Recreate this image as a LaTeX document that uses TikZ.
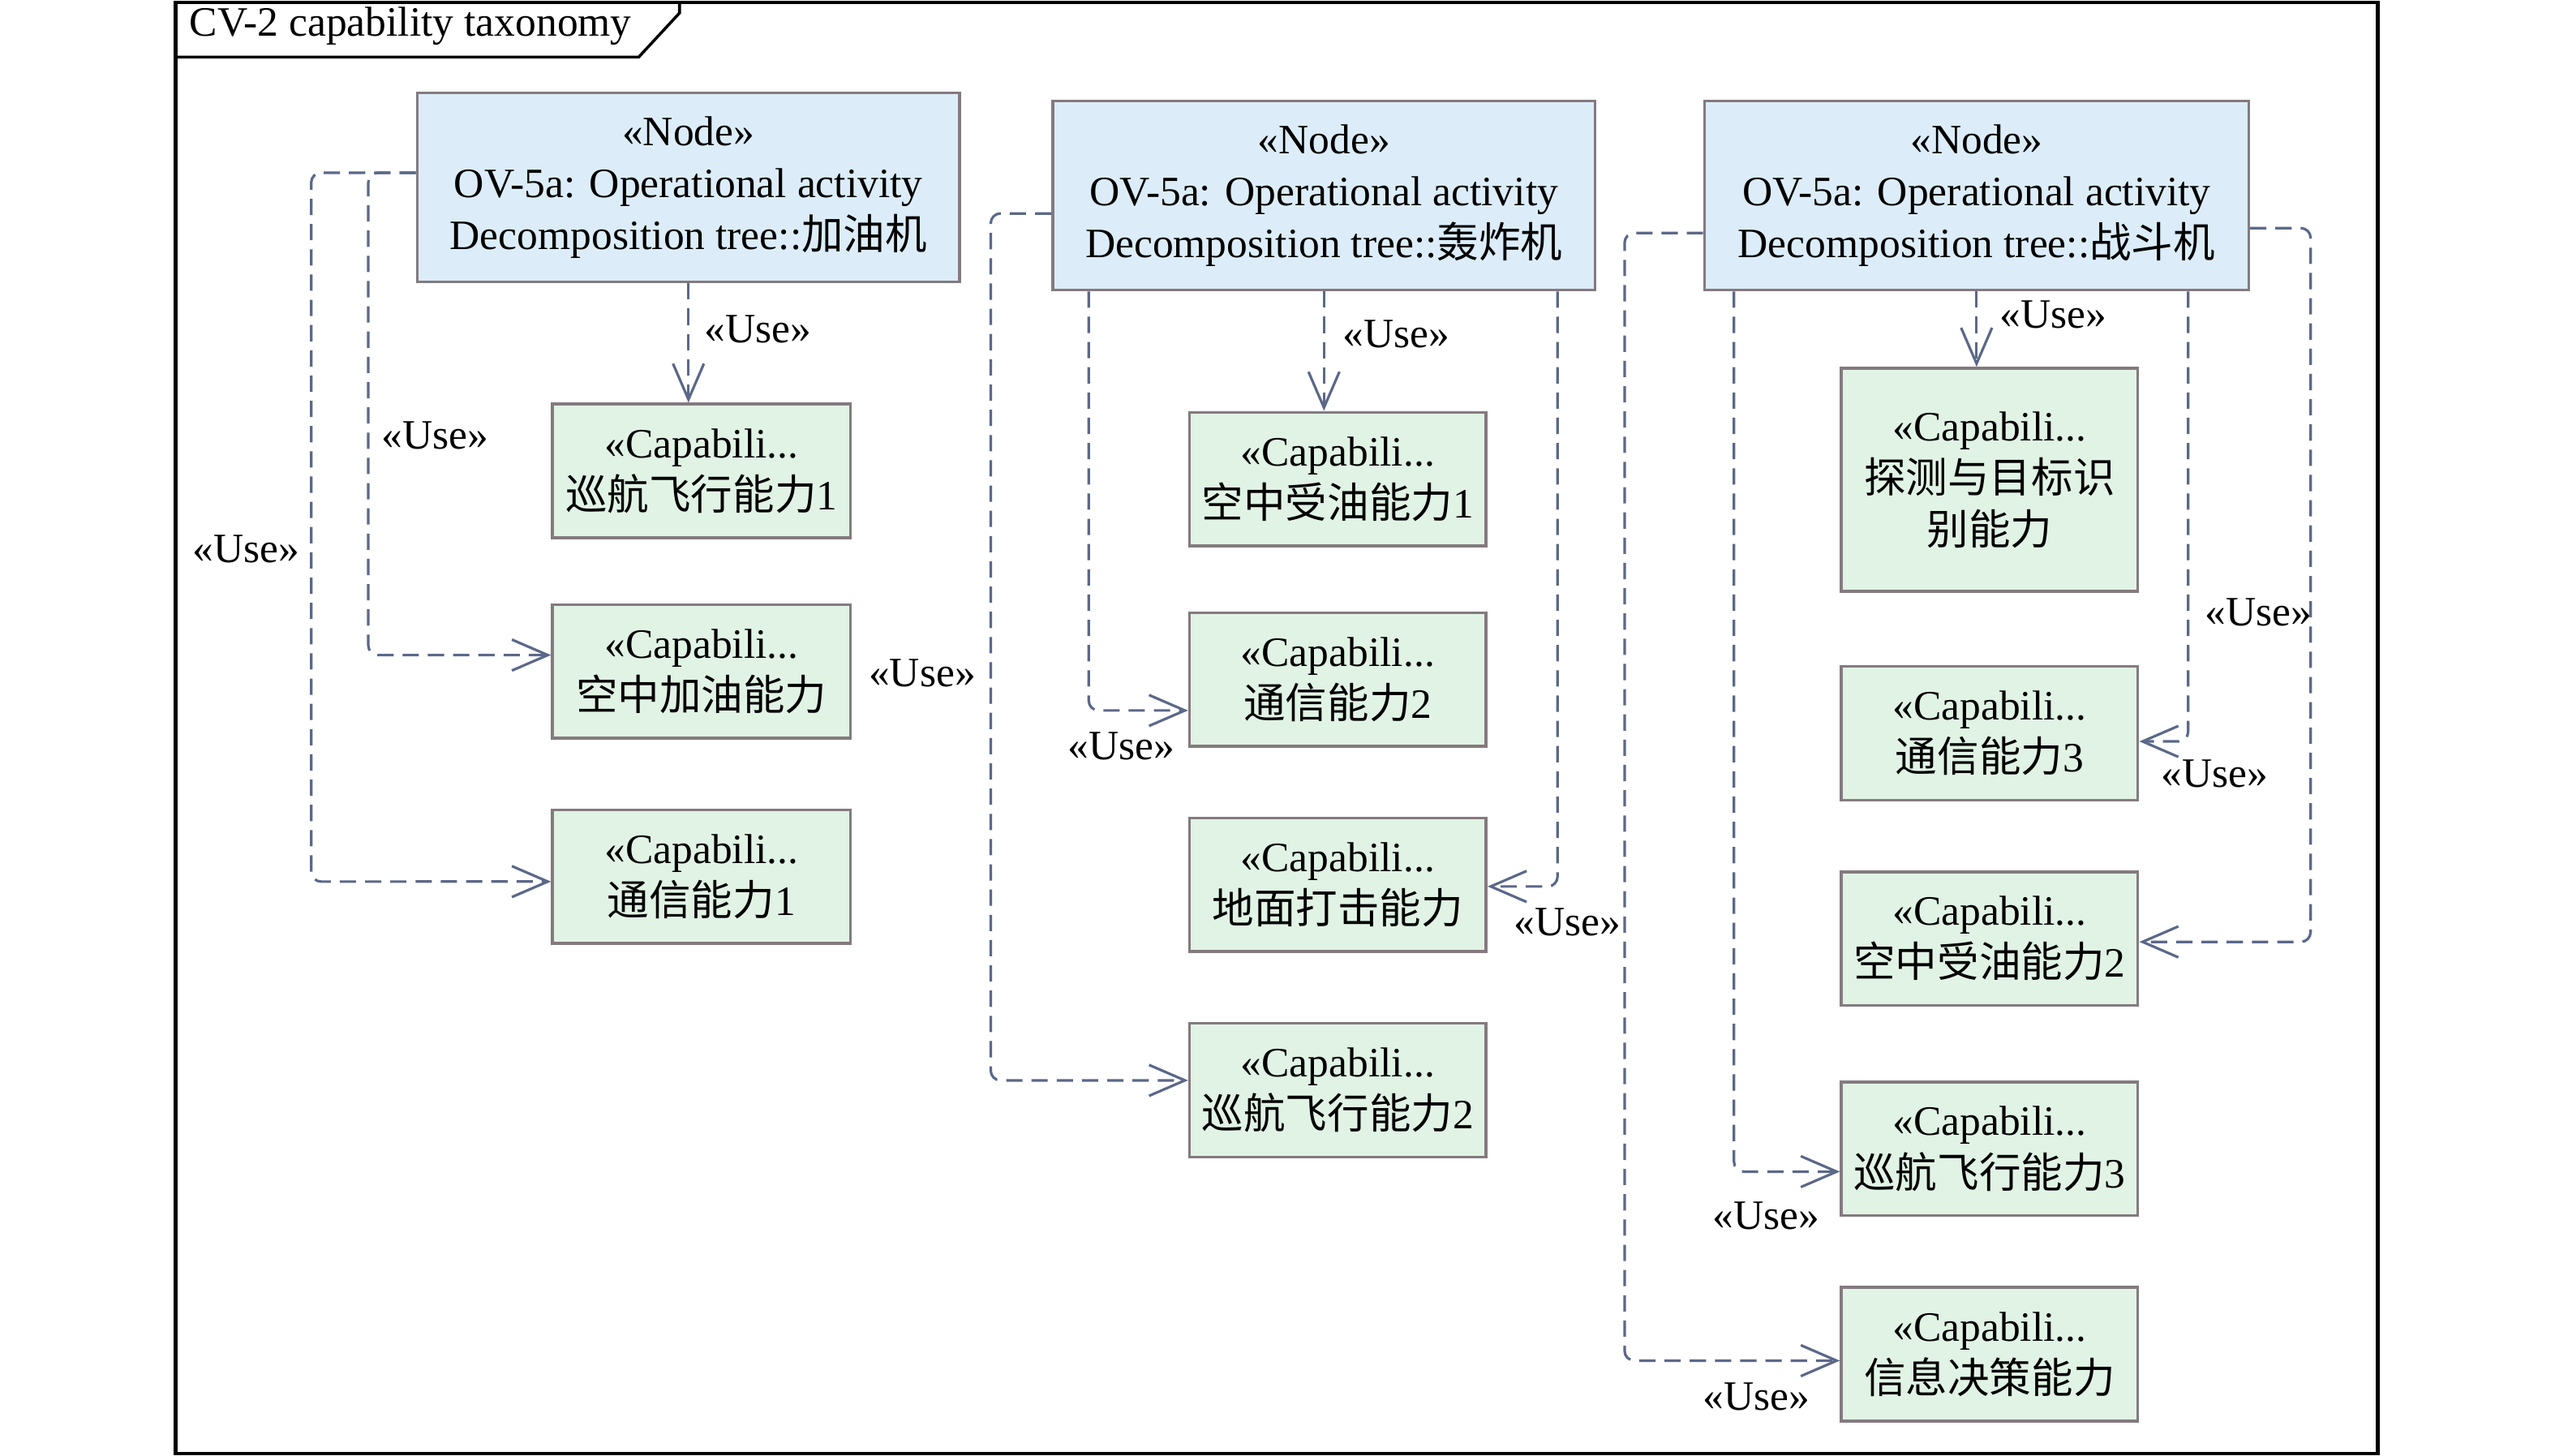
\documentclass[tikz,border=0pt]{standalone}
\usepackage{fontspec}
\setmainfont{Liberation Serif}
\newfontfamily\cjk{Noto Sans CJK SC}
\usetikzlibrary{arrows.meta}
\definecolor{nodefill}{HTML}{DCEDF9}
\definecolor{capfill}{HTML}{E1F3E5}
\definecolor{boxline}{HTML}{847A7F}
\definecolor{conn}{HTML}{5B6889}
\begin{document}
\begin{tikzpicture}[x=0.02cm,y=-0.02cm,
 every node/.style={font=\fontsize{14.6pt}{18.2pt}\selectfont, inner sep=0pt},
 opnode/.style={draw=boxline, fill=nodefill, line width=1pt, minimum width=6.66cm, minimum height=2.32cm, align=center},
 capnode/.style={draw=boxline, fill=capfill, line width=1pt, minimum width=3.64cm, minimum height=1.64cm, align=center},
 usearrow/.style={draw=conn, line width=0.9pt, dash pattern=on 0.2cm off 0.11cm, rounded corners=0.12cm, -{Straight Barb[length=0.44cm,width=0.38cm]}},
 lbl/.style={text=black}]
\useasboundingbox (0,0) rectangle (1568,893.5);
\fill[white] (0,0) rectangle (1568,893.5);
% frame and title tab
\draw[line width=1.4pt] (108,1.5) rectangle (1459,892);
\draw[line width=1pt] (108,35) -- (392,35) -- (417,8) -- (417,1.5);
\node[anchor=west] (title) at (116,16) {CV-2 capability taxonomy};
% operational nodes
\node[opnode] (n1) at (422.5,115) {«Node»\\OV-5a: Operational activity\\Decomposition tree::{\cjk 加油机}};
\node[opnode] (n2) at (812.5,120) {«Node»\\OV-5a: Operational activity\\Decomposition tree::{\cjk 轰炸机}};
\node[opnode, minimum width=6.68cm] (n3) at (1213,120) {«Node»\\OV-5a: Operational activity\\Decomposition tree::{\cjk 战斗机}};
% capability nodes column 1
\node[capnode, minimum width=3.66cm] (c1a) at (430.5,289) {«Capabili...\\{\cjk 巡航飞行能力}1};
\node[capnode, minimum width=3.66cm] (c1b) at (430.5,412) {«Capabili...\\{\cjk 空中加油能力}};
\node[capnode, minimum width=3.66cm] (c1c) at (430.5,538) {«Capabili...\\{\cjk 通信能力}1};
% column 2
\node[capnode] (c2a) at (821,294) {«Capabili...\\{\cjk 空中受油能力}1};
\node[capnode] (c2b) at (821,417) {«Capabili...\\{\cjk 通信能力}2};
\node[capnode] (c2c) at (821,543) {«Capabili...\\{\cjk 地面打击能力}};
\node[capnode] (c2d) at (821,669) {«Capabili...\\{\cjk 巡航飞行能力}2};
% column 3
\node[capnode, minimum height=2.74cm] (c3a) at (1221,294.5) {«Capabili...\\{\cjk 探测与目标识}\\{\cjk 别能力}};
\node[capnode] (c3b) at (1221,450) {«Capabili...\\{\cjk 通信能力}3};
\node[capnode] (c3c) at (1221,576) {«Capabili...\\{\cjk 空中受油能力}2};
\node[capnode] (c3d) at (1221,705) {«Capabili...\\{\cjk 巡航飞行能力}3};
\node[capnode] (c3e) at (1221,831) {«Capabili...\\{\cjk 信息决策能力}};
% connectors node 1
\draw[usearrow] (n1.south) -- (n1.south |- c1a.north);
\draw[usearrow] ([yshift=0.18cm]n1.west) -| (226,402) -- ([yshift=0.2cm]c1b.west);
\draw[usearrow] ([yshift=0.18cm]n1.west) -| (191,541) -- ([yshift=-0.06cm]c1c.west);
% connectors node 2
\draw[usearrow] (n2.south) -- (n2.south |- c2a.north);
\draw[usearrow] ([xshift=0.46cm]n2.south west) |- ([yshift=-0.38cm]c2b.west);
\draw[usearrow] ([xshift=-0.48cm]n2.south east) |- ([yshift=-0.02cm]c2c.east);
\draw[usearrow] ([yshift=-0.22cm]n2.west) -| (608,663) -- ([yshift=0.12cm]c2d.west);
% connectors node 3
\draw[usearrow] (n3.south) -- (n3.south |- c3a.north);
\draw[usearrow] ([xshift=0.38cm]n3.south west) |- ([yshift=-0.28cm]c3d.west);
\draw[usearrow] ([yshift=-0.46cm]n3.west) -| (997,835) -- ([yshift=-0.08cm]c3e.west);
\draw[usearrow] ([xshift=-0.76cm]n3.south east) |- ([yshift=-0.1cm]c3b.east);
\draw[usearrow] ([yshift=-0.4cm]n3.east) -| (1418,578) -- ([yshift=-0.04cm]c3c.east);
% labels
\node[lbl] (u1) at (465,202) {«Use»};
\node[lbl] (u2) at (267,267) {«Use»};
\node[lbl] (u3) at (151,337) {«Use»};
\node[lbl] (u4) at (857,205) {«Use»};
\node[lbl] (u5) at (688,458) {«Use»};
\node[lbl] (u6) at (962,566) {«Use»};
\node[lbl] (u7) at (566,413) {«Use»};
\node[lbl] (u8) at (1260,193) {«Use»};
\node[lbl] (u9) at (1084,746) {«Use»};
\node[lbl] (u10) at (1078,857) {«Use»};
\node[lbl] (u11) at (1359,475) {«Use»};
\node[lbl] (u12) at (1386,376) {«Use»};
\end{tikzpicture}
\end{document}
